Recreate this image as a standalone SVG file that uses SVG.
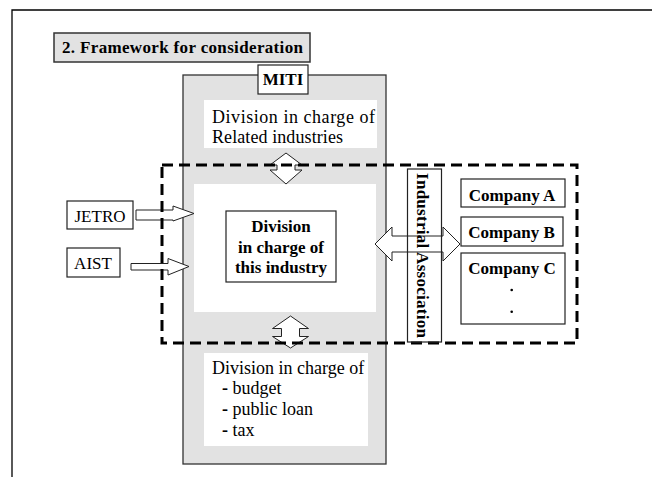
<svg xmlns="http://www.w3.org/2000/svg" width="652" height="478" viewBox="0 0 652 478">
<style>
text{font-family:"Liberation Serif","Times New Roman",serif;fill:#000}
.r{font-size:18px}
.b{font-size:17px;font-weight:bold}
.box{fill:#fff;stroke:#222;stroke-width:1.2}
.gray{fill:#e2e2e2;stroke:#333;stroke-width:1.3}
.wh{fill:#fff;stroke:none}
.arr{fill:#fff;stroke:#222;stroke-width:1}
.dash{fill:none;stroke:#000;stroke-width:3;stroke-dasharray:11 6}
</style>
<rect width="652" height="478" fill="#fff"/>
<g id="frame" fill="none" stroke="#000" stroke-width="1.3">
<path d="M12,477 L12,10 L652,10"/>
</g>
<g id="title">
<rect x="54" y="33" width="256" height="29" fill="#e2e2e2" stroke="#333" stroke-width="1.5"/>
<text class="b" x="62" y="53" textLength="241">2. Framework for consideration</text>
</g>
<g id="miti">
<rect class="gray" x="183" y="75" width="203" height="389"/>
<rect class="box" x="258" y="65" width="50" height="29"/>
<text class="b" x="283" y="85" text-anchor="middle">MITI</text>
</g>
<g id="div-related">
<rect class="wh" x="204" y="100" width="173" height="48"/>
<text class="r" x="212" y="123" textLength="163">Division in charge of</text>
<text class="r" x="212" y="143" textLength="131">Related industries</text>
</g>
<g id="div-this">
<rect class="wh" x="194" y="184" width="182" height="128"/>
<rect class="box" x="226" y="211" width="110" height="71"/>
<text class="b" x="281" y="232" text-anchor="middle">Division</text>
<text class="b" x="281" y="253" text-anchor="middle">in charge of</text>
<text class="b" x="281" y="273" text-anchor="middle">this industry</text>
</g>
<g id="div-finance">
<rect class="wh" x="204" y="353" width="164" height="93"/>
<text class="r" x="212" y="374">Division in charge of</text>
<text class="r" x="222" y="394"><tspan font-weight="bold">-</tspan> budget</text>
<text class="r" x="222" y="415"><tspan font-weight="bold">-</tspan> public loan</text>
<text class="r" x="222" y="436"><tspan font-weight="bold">-</tspan> tax</text>
</g>
<g id="jetro">
<rect class="box" x="67" y="201" width="66" height="28"/>
<text x="100" y="222" font-size="17" text-anchor="middle">JETRO</text>
</g>
<g id="aist">
<rect class="box" x="67" y="248" width="53" height="29"/>
<text x="93" y="269" font-size="17" text-anchor="middle">AIST</text>
</g>
<g id="connectors">
<path class="arr" d="M286,153 L302,165 L295,165 L295,170 L302,170 L286,184 L270,170 L277,170 L277,165 L270,165 Z"/>
<path class="arr" d="M290.5,316 L308.5,328.5 L299.5,328.5 L299.5,336.5 L308.5,336.5 L290.5,348 L272.5,336.5 L281.5,336.5 L281.5,328.5 L272.5,328.5 Z"/>
<path class="arr" d="M136,210 L173,210 L173,206 L194,213.5 L173,221 L173,220 L136,220 Z"/>
<path class="arr" d="M131,263.5 L168,263.5 L168,258.5 L189,266.5 L168,275 L168,270 L131,270 Z"/>
<path class="arr" d="M375,244 L392,227 L392,236 L443,236 L443,227 L460,244 L443,261 L443,252 L392,252 L392,261 Z"/>
</g>
<g id="scope">
<rect class="dash" x="162" y="165" width="415" height="178"/>
</g>
<g id="industrial-association">
<rect x="407.5" y="169" width="34" height="173" fill="none" stroke="#222" stroke-width="1.2"/>
<text class="b" transform="translate(417,173) rotate(90)" x="0" y="0" textLength="165">Industrial Association</text>
</g>
<g id="company-a">
<rect class="box" x="461" y="179" width="104" height="28"/>
<text class="b" x="512" y="201" text-anchor="middle" font-size="17.5">Company A</text>
</g>
<g id="company-b">
<rect class="box" x="461" y="217" width="102" height="29"/>
<text class="b" x="511.5" y="237.5" text-anchor="middle" font-size="17.5">Company B</text>
</g>
<g id="company-c">
<rect class="box" x="461" y="253" width="104" height="71"/>
<text class="b" x="512" y="274" text-anchor="middle" font-size="17.5">Company C</text>
<circle cx="511.7" cy="290" r="1.3" fill="#000"/>
<circle cx="511.7" cy="311.7" r="1.3" fill="#000"/>
</g>
</svg>
